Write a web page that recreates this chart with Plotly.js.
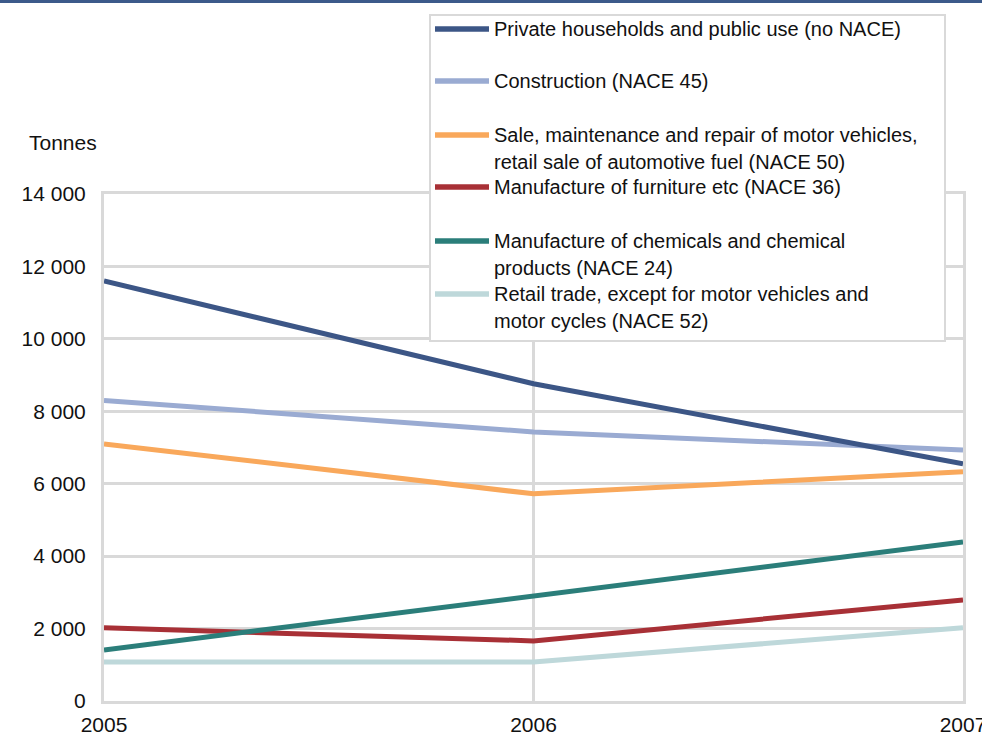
<!DOCTYPE html>
<html>
<head>
<meta charset="utf-8">
<script src="https://cdn.plot.ly/plotly-3.0.1.min.js"></script>
<style>
html,body{margin:0;padding:0;background:#fff;overflow:hidden;}
#chart{width:982px;height:738px;}
</style>
</head>
<body>
<div id="chart"></div>
<script>
// ---- data ----
const years = [2005, 2006, 2007];
const seriesNames = [
  "Private households and public use (no NACE)",
  "Construction (NACE 45)",
  "Sale, maintenance and repair of motor vehicles,<br>retail sale of automotive fuel (NACE 50)",
  "Manufacture of furniture etc (NACE 36)",
  "Manufacture of chemicals and chemical<br>products (NACE 24)",
  "Retail trade, except for motor vehicles and<br>motor cycles (NACE 52)"
];
const privateHouseholds = [11600, 8760, 6550];
const construction = [8300, 7430, 6930];
const saleMotorVehicles = [7100, 5720, 6330];
const furniture = [2020, 1660, 2790];
const chemicals = [1410, 2900, 4390];
const retailTrade = [1080, 1080, 2020];
const yTickValues = [0, 2000, 4000, 6000, 8000, 10000, 12000, 14000];
const yAxisLabel = "Tonnes";

// ---- styling ----
const colors = ["#3c5686", "#9aabd2", "#f9a85b", "#a83036", "#2b7e7a", "#bed8da"];
const allValues = [privateHouseholds, construction, saleMotorVehicles, furniture, chemicals, retailTrade];
const FONT = "Liberation Sans, Arial, sans-serif";
const TICK_SIZE = 21;
const LEG_SIZE = 20;

const W = 982, H = 738;
const M = {l: 104, r: 19, t: 194, b: 37};
const PW = W - M.l - M.r, PH = H - M.t - M.b;
const px2x = p => (p - M.l) / PW;
const px2y = p => (H - M.b - p) / PH;

// draw order: back to front similar to reference
const order = [5, 3, 4, 2, 1, 0];
const traces = order.map(i => ({
  x: years,
  y: allValues[i],
  name: seriesNames[i],
  type: "scatter",
  mode: "lines",
  line: {color: colors[i], width: 5},
  showlegend: false,
  hoverinfo: "skip"
}));

// manual legend
const shapes = [];
const annotations = [];
// top rule
shapes.push({type: "rect", xref: "paper", yref: "paper",
  x0: px2x(0), x1: px2x(W), y0: px2y(3), y1: px2y(0),
  fillcolor: "#3c5a8a", line: {width: 0}, layer: "above"});
// legend box
shapes.push({type: "rect", xref: "paper", yref: "paper",
  x0: px2x(430), x1: px2x(945), y0: px2y(341), y1: px2y(15),
  fillcolor: "#ffffff", line: {color: "#d9d9d9", width: 2}, layer: "above"});
const legendY = [29, 81, 135, 187, 241, 294];
const lineGap = 26.5;
seriesNames.forEach((nm, i) => {
  shapes.push({type: "line", xref: "paper", yref: "paper",
    x0: px2x(435), x1: px2x(489), y0: px2y(legendY[i]), y1: px2y(legendY[i]),
    line: {color: colors[i], width: 5.5}, layer: "above"});
  nm.split("<br>").forEach((part, k) => {
    annotations.push({xref: "paper", yref: "paper",
      x: px2x(492), y: px2y(legendY[i] + k * lineGap),
      xanchor: "left", yanchor: "middle", showarrow: false,
      text: part, font: {family: FONT, size: LEG_SIZE, color: "#111"}});
  });
});
annotations.push({xref: "paper", yref: "paper", x: px2x(27), y: px2y(143),
  xanchor: "left", yanchor: "middle", showarrow: false,
  text: yAxisLabel, font: {family: FONT, size: TICK_SIZE, color: "#111"}});

const layout = {
  width: W, height: H,
  margin: M,
  paper_bgcolor: "#fff", plot_bgcolor: "#fff",
  separators: ". ",
  font: {family: FONT, size: TICK_SIZE, color: "#111"},
  showlegend: false,
  xaxis: {
    range: [2005, 2007], tickvals: years, ticktext: years.map(String),
    showgrid: true, gridcolor: "#d9d9d9", gridwidth: 3,
    showline: true, linecolor: "#d9d9d9", linewidth: 3, mirror: true,
    ticks: "outside", ticklen: 3, tickcolor: "rgba(0,0,0,0)",
    ticklabeloverflow: "allow",
    zeroline: false, fixedrange: true,
    tickfont: {family: FONT, size: TICK_SIZE, color: "#111"}
  },
  yaxis: {
    range: [0, 14000], tickvals: yTickValues, tickformat: ",d",
    showgrid: true, gridcolor: "#d9d9d9", gridwidth: 3,
    showline: true, linecolor: "#d9d9d9", linewidth: 3, mirror: true,
    ticks: "outside", ticklen: 11, tickcolor: "rgba(0,0,0,0)",
    zeroline: false, fixedrange: true,
    tickfont: {family: FONT, size: TICK_SIZE, color: "#111"}
  },
  shapes: shapes,
  annotations: annotations
};

Plotly.newPlot("chart", traces, layout, {displayModeBar: false, staticPlot: true});
</script>
</body>
</html>
